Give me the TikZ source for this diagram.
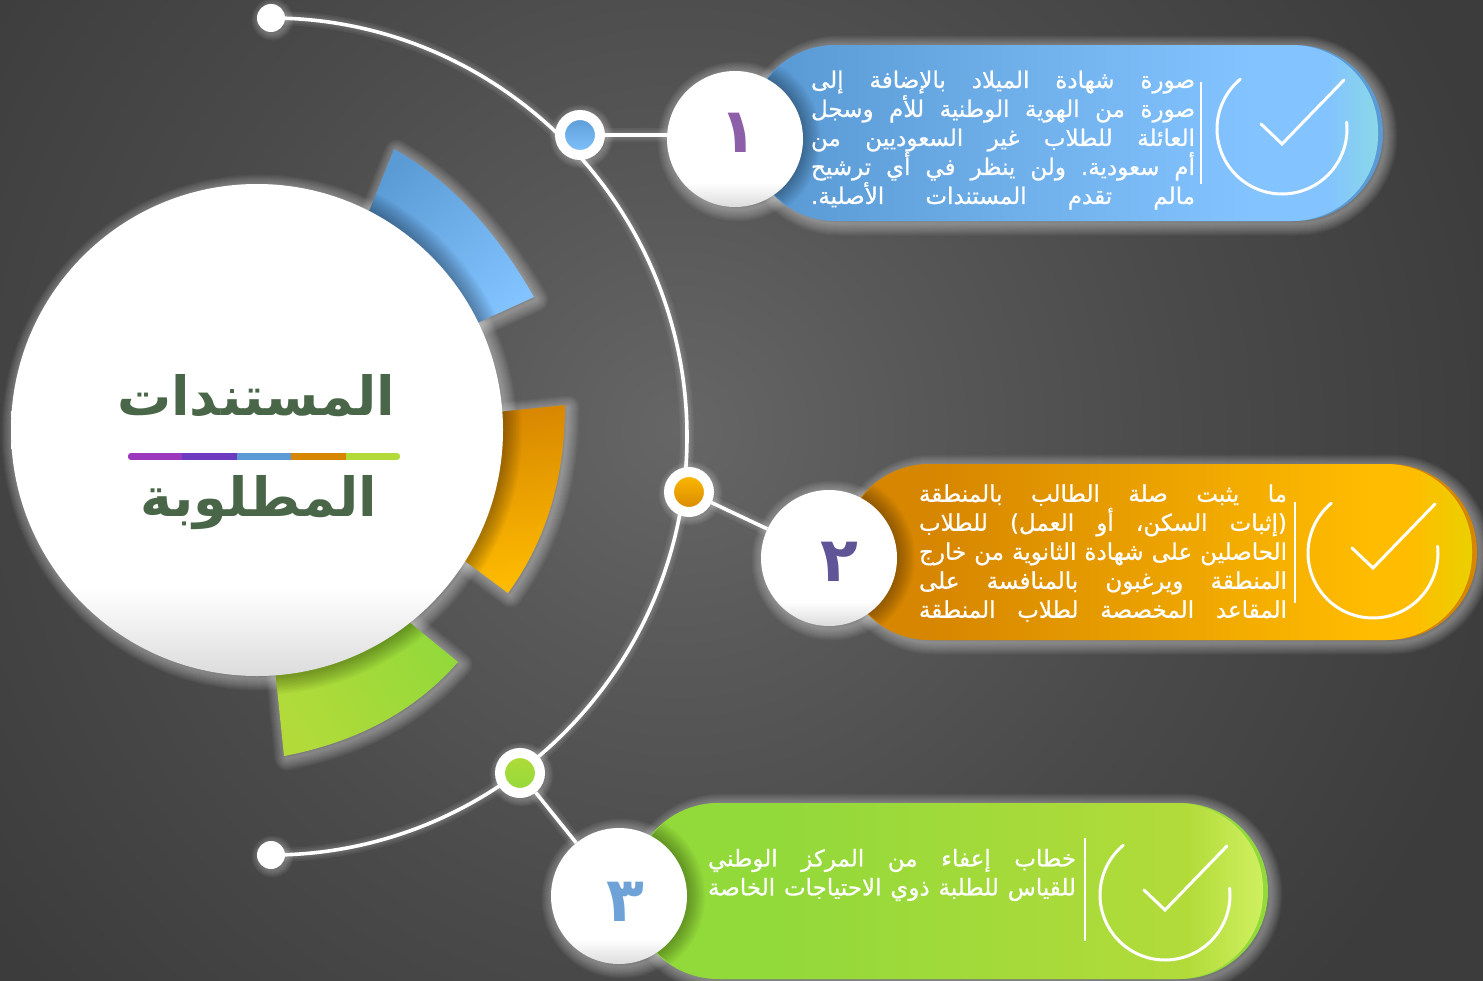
\documentclass[tikz,border=0pt]{standalone}
\usepackage{fontspec}
\usetikzlibrary{backgrounds}
\TeXXeTstate=1
\newfontfamily\arfont[Script=Arabic]{DejaVu Sans}
\newfontfamily\arpill[Script=Arabic,FakeBold=0.7]{DejaVu Sans}
\definecolor{blueA}{HTML}{5B9BD5}
\definecolor{blueB}{HTML}{83C3FF}
\definecolor{blueC}{HTML}{8AD8E8}
\definecolor{orgA}{HTML}{D68600}
\definecolor{orgB}{HTML}{FFBC00}
\definecolor{orgC}{HTML}{EBD000}
\definecolor{grnA}{HTML}{92D93A}
\definecolor{grnB}{HTML}{B2DB3A}
\definecolor{grnC}{HTML}{CFF060}
\definecolor{titlegreen}{HTML}{4A6648}
\definecolor{bgA}{HTML}{666666}
\definecolor{bgB}{HTML}{585858}
\definecolor{bgC}{HTML}{4A4A4A}
\definecolor{bgD}{HTML}{3C3C3C}
\definecolor{ballG}{HTML}{DCDCDC}
\definecolor{numA}{HTML}{8C5FA8}
\definecolor{numB}{HTML}{5F5597}
\definecolor{numC}{HTML}{6FA3D8}
\definecolor{barA}{HTML}{9B38BD}
\definecolor{barB}{HTML}{6C3BC0}
\pgfdeclareradialshading{bgshade}{\pgfpoint{0bp}{0bp}}{color(0bp)=(bgA); color(7bp)=(bgB); color(15bp)=(bgC); color(25bp)=(bgD); color(50bp)=(bgD)}
\pgfdeclareverticalshading{ballv}{100bp}{color(0bp)=(ballG); color(25bp)=(ballG); color(34bp)=(white); color(100bp)=(white)}
\pgfdeclarehorizontalshading{pillblue}{100bp}{color(0bp)=(blueA); color(28bp)=(blueA); color(65bp)=(blueB); color(71bp)=(blueB); color(75bp)=(blueC); color(100bp)=(blueC)}
\pgfdeclarehorizontalshading{pillorg}{100bp}{color(0bp)=(orgA); color(32bp)=(orgA); color(67bp)=(orgB); color(70bp)=(orgB); color(75bp)=(orgC); color(100bp)=(orgC)}
\pgfdeclarehorizontalshading{pillgrn}{100bp}{color(0bp)=(grnA); color(36bp)=(grnA); color(69bp)=(grnB); color(75bp)=(grnC); color(100bp)=(grnC)}
\pgfdeclarelayer{bgl}
\pgfdeclarelayer{conn}
\pgfsetlayers{bgl,conn,main}
\newcommand{\glowpath}[1]{\foreach \w in {2,4,...,24}{\draw[white,opacity=.035,line width=\w pt,line join=round,xshift=2.5pt,yshift=-2.5pt] #1;}}
\newcommand{\glowsmall}[1]{\foreach \w in {2,4,...,14}{\draw[white,opacity=.04,line width=\w pt,xshift=1.5pt,yshift=-1.5pt] #1;}}
\newcommand{\darkpath}[1]{\foreach \w in {3,6,...,36}{\draw[black,opacity=.028,line width=\w pt] #1;}}
\newcommand{\jl}[2]{\leavevmode\hbox to #1{#2}}
\newcommand{\wedgeA}{(394,149) .. controls (449,180) and (495,229) .. (534,297) -- (440,340) -- (356,244) -- cycle}
\newcommand{\wedgeB}{(565,405) .. controls (565,478) and (546,541) .. (508,593) -- (430,535) -- (450,417) -- cycle}
\newcommand{\wedgeC}{(458,662) .. controls (416,710) and (358,742) .. (284,756) -- (270,620) -- (370,590) -- cycle}
\newcommand{\checkicon}[2]{\begin{scope}[shift={(#1,#2)}]
\draw[icon] plot[domain=130:366,samples=70] ({65*cos(\x)},{-65*sin(\x)});
\draw[icon,line join=miter] (-21,-5) -- (0,15) -- (62,-49);
\end{scope}}
\tikzset{
 icon/.style={white,line width=3pt,line cap=round},
 numdot/.style={circle,inner sep=0pt,minimum size=136pt,shading=ballv},
 numtext/.style={inner sep=0pt,text=#1,font=\arfont\bfseries\fontsize{62}{62}\selectfont},
 titletext/.style={text=titlegreen,inner sep=0pt,font=\arfont\bfseries\fontsize{54}{60}\selectfont},
 smalldot/.style={circle,inner sep=0pt,minimum size=40pt,draw=white,line width=10pt},
 enddot/.style={circle,inner sep=0pt,minimum size=28pt,fill=white},
 linkline/.style={white,line width=3.6pt},
 sep/.style={white,line width=1.6pt},
 pilltext/.style={text=white,inner sep=0pt,align=right,text width=#1,font=\arpill\fontsize{23}{29}\selectfont},
}
\begin{document}
\begin{tikzpicture}[x=1pt,y=-1pt]
\useasboundingbox (0,0) rectangle (1483,980);
\begin{pgfonlayer}{bgl}
\begin{scope}
\clip (0,0) rectangle (1483,980);
\shade[shading=bgshade] (-170,-420) rectangle (1530,1280);
\end{scope}
\glowpath{(257,430) circle[radius=246pt]}
\glowpath{\wedgeA}
\glowpath{\wedgeB}
\glowpath{\wedgeC}
\shade[top color=blueA,bottom color=blueB,shading angle=40] \wedgeA;
\shade[top color=orgA,bottom color=orgB,shading angle=8] \wedgeB;
\shade[top color=grnA,bottom color=grnB,shading angle=-60] \wedgeC;
\begin{scope}\clip \wedgeA; \darkpath{(257,430) circle[radius=247pt]} \end{scope}
\begin{scope}\clip \wedgeB; \darkpath{(257,430) circle[radius=247pt]} \end{scope}
\begin{scope}\clip \wedgeC; \darkpath{(257,430) circle[radius=247pt]} \end{scope}
\end{pgfonlayer}

% main disc
\node[circle,inner sep=0pt,minimum size=492pt,shading=ballv] (disc) at (257,430) {};
\node[titletext] (title1) at (256,396) {\beginR المستندات\endR};
\node[titletext] (title2) at (259,503) {\beginR المطلوبة\endR};
\begin{scope}
\clip[rounded corners=3pt] (128,453) rectangle (400,460);
\fill[barA] (128,453) rectangle (182.4,460);
\fill[barB] (182.4,453) rectangle (236.8,460);
\fill[blueA] (236.8,453) rectangle (291.2,460);
\fill[orgA] (291.2,453) rectangle (345.6,460);
\fill[grnB] (345.6,453) rectangle (400,460);
\end{scope}

% glow of the number discs, under the pills
\glowpath{(735,139) circle[radius=68pt]}
\glowpath{(829,558) circle[radius=68pt]}
\glowpath{(619,896) circle[radius=68pt]}

% pills
\glowpath{[rounded corners=88pt] (749,45) rectangle (1383,221)}
\fill[blueA,rounded corners=88pt] (749,45) rectangle (1383,221);
\shade[shading=pillblue,rounded corners=86pt] (749,45) rectangle (1378,221);
\glowpath{[rounded corners=88pt] (843,464) rectangle (1477,640)}
\fill[orgA,rounded corners=88pt] (843,464) rectangle (1477,640);
\shade[shading=pillorg,rounded corners=86pt] (843,464) rectangle (1472,640);
\glowpath{[rounded corners=88pt] (632,803) rectangle (1268,979)}
\fill[grnA,rounded corners=88pt] (632,803) rectangle (1268,979);
\shade[shading=pillgrn,rounded corners=86pt] (632,803) rectangle (1263,979);

\begin{scope}\clip[rounded corners=88pt] (749,45) rectangle (1383,221); \darkpath{(735,139) circle[radius=68pt]} \end{scope}
\begin{scope}\clip[rounded corners=88pt] (843,464) rectangle (1477,640); \darkpath{(829,558) circle[radius=68pt]} \end{scope}
\begin{scope}\clip[rounded corners=88pt] (632,803) rectangle (1268,979); \darkpath{(619,896) circle[radius=68pt]} \end{scope}

% icons
\draw[sep] (1201,82) -- (1201,184);
\checkicon{1282}{129}
\draw[sep] (1295,502) -- (1295,603);
\checkicon{1373}{553}
\draw[sep] (1085,838) -- (1085,941);
\checkicon{1165}{895}

% texts
\node[pilltext=384pt] (t1) at (1003,140) {%
\jl{384pt}{\beginR صورة\hfil شهادة\hfil الميلاد\hfil بالإضافة\hfil إلى\endR}\\
\jl{384pt}{\beginR صورة\hfil من\hfil الهوية\hfil الوطنية\hfil للأم\hfil وسجل\endR}\\
\jl{384pt}{\beginR العائلة\hfil للطلاب\hfil غير\hfil السعوديين\hfil من\endR}\\
\jl{384pt}{\beginR أم\hfil سعودية.\hfil ولن\hfil ينظر\hfil في\hfil أي\hfil ترشيح\endR}\\
\jl{384pt}{\beginR مالم\hfil تقدم\hfil المستندات\hfil الأصلية.\endR}};
\node[pilltext=368pt] (t2) at (1103,553) {%
\jl{368pt}{\beginR ما\hfil يثبت\hfil صلة\hfil الطالب\hfil بالمنطقة\endR}\\
\jl{368pt}{\beginR (إثبات\hfil السكن،\hfil أو\hfil العمل)\hfil للطلاب\endR}\\
\jl{368pt}{\beginR الحاصلين\hfil على\hfil شهادة\hfil الثانوية\hfil من\hfil خارج\endR}\\
\jl{368pt}{\beginR المنطقة\hfil ويرغبون\hfil بالمنافسة\hfil على\endR}\\
\jl{368pt}{\beginR المقاعد\hfil المخصصة\hfil لطلاب\hfil المنطقة\endR}};
\node[pilltext=368pt] (t3) at (892,875) {%
\jl{368pt}{\beginR خطاب\hfil إعفاء\hfil من\hfil المركز\hfil الوطني\endR}\\
\jl{368pt}{\beginR للقياس\hfil للطلبة\hfil ذوي\hfil الاحتياجات\hfil الخاصة\endR}};

% number discs
\node[numdot] (n1) at (735,139) {};
\node[numdot] (n2) at (829,558) {};
\node[numdot] (n3) at (619,896) {};
\node[numtext=numA] (d1) at (738,133) {\beginR ١\endR};
\node[numtext=numB] (d2) at (839,562) {\beginR ٢\endR};
\node[numtext=numC] (d3) at (625,902) {\beginR ٣\endR};

% junction dots and ends
\glowsmall{(580,135) circle[radius=25pt]}
\glowsmall{(689,492) circle[radius=25pt]}
\glowsmall{(520,773) circle[radius=25pt]}
\glowsmall{(271,18) circle[radius=14pt]}
\glowsmall{(271,855) circle[radius=14pt]}
\node[smalldot,top color=blueA,bottom color=blueB] (s1) at (580,135) {};
\node[smalldot,top color=orgB,bottom color=orgA] (s2) at (689,492) {};
\node[smalldot,top color=grnB,bottom color=grnA] (s3) at (520,773) {};
\node[enddot] (e1) at (271,18) {};
\node[enddot] (e2) at (271,855) {};
\coordinate (am) at (687,436.5);

\begin{pgfonlayer}{conn}
\foreach \w in {14,10,7}{
 \draw[white,opacity=.06,line width=\w pt] (e1.center) .. controls (499,18) and (687,205) .. (am) .. controls (687,668) and (499,855) .. (e2.center);
 \draw[white,opacity=.06,line width=\w pt] (s1) -- (s1 -| n1.west);
 \draw[white,opacity=.06,line width=\w pt] (s2) -- (n2);
 \draw[white,opacity=.06,line width=\w pt] (s3) -- (n3);
}
\draw[linkline] (e1.center) .. controls (499,18) and (687,205) .. (am) .. controls (687,668) and (499,855) .. (e2.center);
\draw[linkline] (s1) -- (s1 -| n1.west);
\draw[linkline] (s2) -- (n2);
\draw[linkline] (s3) -- (n3);
\end{pgfonlayer}
\end{tikzpicture}
\end{document}
